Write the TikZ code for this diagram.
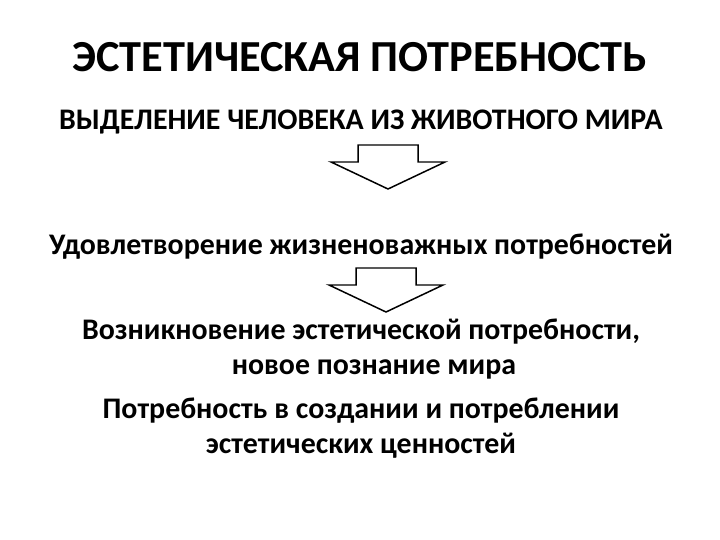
\documentclass[tikz,border=0pt]{standalone}
\usepackage{fontspec}
\setmainfont{Carlito}
\usepackage{tikz}
\usetikzlibrary{positioning}

\tikzset{
    headline/.style={font=\fontsize{44.5}{52}\selectfont\bfseries, anchor=base, inner sep=0pt},
    stage/.style={font=\fontsize{30}{35}\selectfont\bfseries, anchor=base, align=center, inner sep=0pt},
    downarrow/.pic={
        \draw[line width=1.5pt, fill=white] (-30,0) -- (30,0) -- (30,17) -- (57,17) -- (0,44)
            -- (-57,17) -- (-30,17) -- cycle;
    }
}

\begin{document}
\begin{tikzpicture}[x=1bp, y=-1bp]

\useasboundingbox[fill=white] (0,0) rectangle (720,540);

% Title
\node[headline] (title) at (360, 72) {ЭСТЕТИЧЕСКАЯ ПОТРЕБНОСТЬ};

% First stage
\node[stage] (origin) at (361, 130) {ВЫДЕЛЕНИЕ ЧЕЛОВЕКА ИЗ ЖИВОТНОГО МИРА};

\pic at (388, 145) {downarrow};

% Second stage
\node[stage] (needs) at (361, 255) {Удовлетворение жизненоважных потребностей};

\pic at (386, 268) {downarrow};

% Third stage
\node[stage] (aesthetic) at (361, 374) {Возникновение эстетической потребности,\\\hspace*{26bp}новое познание мира};

% Fourth stage
\node[stage] (values) at (361, 453) {Потребность в создании и потреблении\\эстетических ценностей};

\end{tikzpicture}
\end{document}
